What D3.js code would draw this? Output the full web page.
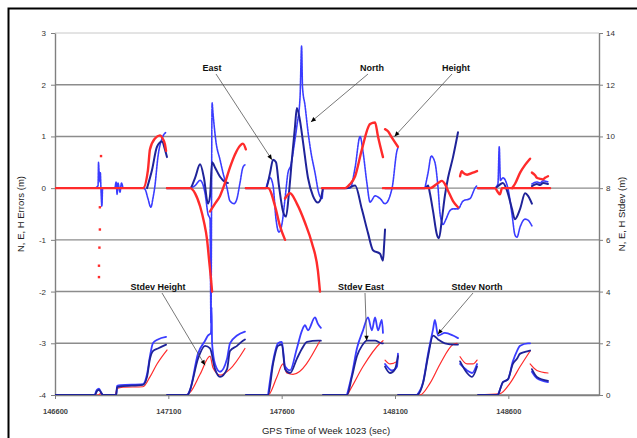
<!DOCTYPE html>
<html>
<head>
<meta charset="utf-8">
<script src="https://cdn.jsdelivr.net/npm/d3@7"></script>
<style>
  html, body { margin: 0; padding: 0; background: #fff; }
  svg { display: block; font-family: Arial, "Liberation Sans", sans-serif; }
</style>
</head>
<body>
<svg id="chart" width="637" height="438"></svg>
<script>
// ---- tick values ----
const xTicks = [146600, 147100, 147600, 148100, 148600];
const errTicks = [-4, -3, -2, -1, 0, 1, 2, 3];
const sdTicks = [0, 2, 4, 6, 8, 10, 12, 14];

// ---- position errors (m), one array of [time, value] per continuous piece ----
const heightErr = [
  [[146600,0],[146790,0],[146975,0],[146988,0],[147010,0.35],[147019,0.75],[147041,0.96],[147063,1.02],[147076,0.95],[147085,0.85],[147090,0.72]],
  [[147094,0],[147196,0],[147218,-0.1],[147240,-0.35],[147257,-0.65],[147271,-1.0],[147280,-1.4],[147288,-1.75],[147293,-2.0]],
  [[147284,-0.45],[147306,-0.3],[147328,-0.15],[147350,0.1],[147372,0.4],[147394,0.65],[147416,0.82],[147429,0.86],[147442,0.75]],
  [[147442,0],[147540,0],[147571,-0.35],[147593,-0.74],[147615,-1.0]],
  [[147615,-0.2],[147637,-0.1],[147667,-0.3],[147703,-0.67],[147734,-1.07],[147760,-1.6],[147769,-2.0]],
  [[147778,0],[147879,0],[147902,0.08],[147924,0.23],[147954,0.75],[147990,1.24],[148012,1.27],[148025,1.0],[148047,0.6]],
  [[148056,1.14],[148069,1.1],[148087,0.97],[148113,0.8]],
  [[148047,0],[148254,0],[148290,0.1],[148307,0.14],[148320,0.08],[148334,-0.05],[148356,-0.25],[148378,-0.37]],
  [[148387,0.23],[148394,0.33],[148400,0.3],[148418,0.26],[148444,0.3],[148462,0.33]],
  [[148466,0],[148541,0],[148554,-0.08],[148563,-0.12],[148572,0],[148784,0]],
  [[148616,0],[148629,0.08],[148652,0.3],[148674,0.45],[148696,0.57]],
  [[148704,0.3],[148718,0.25],[148726,0.2],[148740,0.18],[148753,0.17],[148762,0.2],[148775,0.23]]
];
// isolated height fixes around 146800
const heightDots = [[146803,0.62],[146798,-0.37],[146798,-0.8],[146796,-1.15],[146794,-1.5],[146794,-1.72]];

const eastErr = [
  [[147006,0],[147028,0.35],[147050,0.8],[147072,0.9],[147085,0.75],[147094,0.6]],
  [[147094,0],[147196,0],[147218,0.2],[147240,0.46],[147257,0.2],[147275,-0.3],[147284,-0.15],[147293,0.5],[147306,0.4],[147328,0.22],[147350,0.12],[147363,0.1]],
  [[147442,0],[147531,0],[147549,0.3],[147562,0.55],[147575,0.5],[147588,0.05],[147606,-0.45],[147619,-0.55],[147632,-0.1],[147645,0.55],[147659,1.2],[147667,1.55],[147681,1.3],[147694,0.9],[147716,0.2],[147738,-0.15],[147760,-0.28],[147773,-0.2],[147782,0]],
  [[147782,0],[147888,0],[147924,0.05],[147954,-0.41],[147981,-0.87],[148003,-1.2],[148034,-1.27],[148047,-1.4],[148052,-1.1],[148056,-0.8]],
  [[148056,0],[148232,0],[148246,0.05],[148254,-0.1],[148268,-0.45],[148285,-0.9],[148294,-0.97],[148307,-0.6],[148320,-0.15],[148334,0.2],[148356,0.6],[148378,1.08]],
  [[148466,0],[148541,0],[148554,0.04],[148576,0.1],[148598,-0.1],[148616,-0.4],[148629,-0.6],[148652,-0.4],[148674,-0.1],[148687,-0.15],[148704,-0.3]],
  [[148704,0.04],[148726,0.08],[148740,0.06],[148753,0.1],[148775,0.08]]
];

const northErr = [
  [[146776,0],[146790,0.05],[146792,0.5],[146794,0.35],[146796,0.25],[146798,0.12],[146800,0.3],[146803,-0.05],[146807,-0.35],[146810,0],[146821,0]],
  [[146865,0],[146870,0.12],[146874,-0.12],[146878,0.1],[146887,-0.08],[146893,0.1],[146900,0]],
  [[146988,0],[146997,-0.02],[147010,-0.2],[147023,-0.37],[147032,-0.2],[147041,0.05],[147054,0.6],[147076,1.0],[147090,1.08]],
  [[147196,0],[147218,0.05],[147240,0.15],[147262,-0.1],[147275,-0.5],[147284,-0.6],[147288,-2.6],[147293,1.65],[147297,1.45],[147310,0.9],[147328,0.55],[147341,0.3],[147359,0.0],[147372,-0.25],[147390,-0.3],[147403,-0.2],[147416,0.1],[147429,0.4],[147438,0.45]],
  [[147531,0],[147549,0.2],[147562,0.05],[147575,-0.6],[147588,-0.85],[147601,-0.7],[147615,-0.2],[147628,0.3],[147641,0.45],[147654,0.8],[147667,1.2],[147681,1.75],[147688,2.75],[147692,1.95],[147703,1.6],[147716,1.1],[147729,0.7],[147747,0.3],[147764,-0.1],[147778,-0.2],[147782,0]],
  [[147888,0],[147902,0],[147924,0.4],[147946,1.0],[147959,0.7],[147976,0.1],[147990,-0.27],[148012,-0.15],[148034,-0.2],[148056,-0.3],[148087,0],[148109,0.73],[148113,0.78]],
  [[148232,0],[148246,0.3],[148260,0.62],[148276,0.5],[148290,0.0],[148299,-0.5],[148312,-0.7],[148325,-0.6],[148340,-0.45],[148356,-0.4],[148378,-0.4],[148400,-0.25],[148431,-0.2],[148453,0.0],[148462,0.05]],
  [[148541,0],[148554,0.08],[148560,0.8],[148565,0.15],[148576,0.2],[148598,0],[148616,-0.5],[148629,-0.9],[148638,-0.95],[148652,-0.75],[148674,-0.6],[148687,-0.62],[148704,-0.73]],
  [[148704,0.08],[148726,0.12],[148740,0.1],[148753,0.14],[148775,0.12]]
];

// ---- standard deviations (m) ----
const stdevHeight = [
  [[146600,0],[146790,0],[146800,0.05],[146812,0],[146865,0],[146874,0.25],[146900,0.3],[146988,0.32],[147019,0.7],[147050,1.2],[147094,1.74]],
  [[147094,0],[147173,0],[147196,0.1],[147240,0.8],[147284,1.5],[147297,1.05],[147328,0.77],[147372,1.0],[147438,1.8]],
  [[147442,0],[147540,0],[147579,0.7],[147606,1.2],[147623,0.85],[147650,0.8],[147769,2.1]],
  [[147782,0],[147888,0],[147902,0.2],[147959,1.1],[148034,2.0],[148047,2.1]],
  [[148056,1.35],[148078,1.2],[148109,1.3],[148113,1.55]],
  [[148113,0],[148210,0],[148254,0.45],[148299,1.2],[148356,1.95],[148374,2.0]],
  [[148387,1.48],[148418,1.2],[148444,1.2],[148462,1.35]],
  [[148466,0],[148563,0.05],[148607,0.45],[148652,1.1],[148696,1.7]],
  [[148696,1.2],[148726,0.95],[148775,0.85]]
];

const stdevEast = [
  [[146600,0],[146776,0],[146785,0.15],[146794,0.2],[146803,0.1],[146812,0],[146870,0],[146874,0.3],[146890,0.33],[146988,0.39],[147006,0.7],[147019,1.4],[147032,1.7],[147054,1.8],[147090,1.95]],
  [[147094,0],[147185,0],[147196,0.2],[147231,1.4],[147262,1.9],[147284,1.8],[147306,1.0],[147328,0.7],[147359,1.0],[147372,1.7],[147403,1.9],[147429,2.1],[147438,2.15]],
  [[147442,0],[147540,0],[147562,1.2],[147584,1.9],[147601,1.95],[147615,1.0],[147637,0.85],[147667,1.4],[147690,1.8],[147712,2.05],[147760,2.1],[147773,2.1]],
  [[147782,0],[147888,0],[147910,0.7],[147932,1.5],[147954,1.9],[147976,2.1],[148012,2.1],[148042,2.0],[148047,2.0]],
  [[148056,1.1],[148078,0.85],[148100,1.0],[148113,1.5]],
  [[148113,0],[148197,0],[148224,0.47],[148246,1.5],[148268,2.3],[148290,2.15],[148320,2.0],[148365,1.95],[148378,1.95]],
  [[148387,1.3],[148418,0.85],[148440,0.7],[148462,1.1]],
  [[148466,0],[148554,0],[148563,0.2],[148576,0.5],[148598,0.6],[148620,1.2],[148638,1.4],[148652,1.6],[148687,1.7],[148696,1.72]],
  [[148704,1.0],[148726,0.7],[148775,0.55]]
];

const stdevNorth = [
  [[146776,0],[146785,0.2],[146794,0.25],[146803,0.1],[146812,0],[146870,0],[146874,0.35],[146890,0.38],[146988,0.42],[147006,0.8],[147019,1.5],[147032,2.0],[147054,2.15],[147090,2.25]],
  [[147185,0],[147196,0.2],[147231,1.6],[147262,2.1],[147275,2.3],[147288,2.4],[147291,3.4],[147293,2.0],[147306,1.2],[147328,0.9],[147359,1.4],[147372,2.0],[147403,2.3],[147438,2.45]],
  [[147540,0],[147562,1.3],[147584,2.0],[147601,2.05],[147615,1.1],[147637,0.95],[147667,1.8],[147690,2.5],[147703,2.7],[147716,2.5],[147747,3.0],[147760,2.75],[147773,2.6]],
  [[147888,0],[147910,0.8],[147932,1.8],[147959,2.5],[147981,3.0],[147998,2.5],[148012,3.0],[148025,2.5],[148042,2.9],[148047,2.4]],
  [[148056,1.2],[148087,0.95],[148109,1.1],[148113,1.6]],
  [[148197,0],[148224,0.5],[148246,1.6],[148268,2.55],[148276,2.9],[148290,2.3],[148320,2.4],[148356,2.3],[148378,2.2]],
  [[148387,1.2],[148418,0.95],[148440,0.85],[148462,1.2]],
  [[148554,0],[148563,0.2],[148576,0.5],[148598,0.6],[148620,1.3],[148638,1.7],[148652,1.9],[148687,2.0],[148696,2.0]],
  [[148704,0.9],[148726,0.65],[148775,0.5]]
];

// ---- callout labels: text, text anchor point, arrow tip in data units ----
const callouts = [
  { text: "East",         tx: 212, ty: 71,  at: [147557, 0.55], axis: "err" },
  { text: "North",        tx: 372, ty: 71,  at: [147729, 1.28], axis: "err" },
  { text: "Height",       tx: 456, ty: 71,  at: [148098, 1.0],  axis: "err" },
  { text: "Stdev Height", tx: 158, ty: 290, at: [147262, 1.15], axis: "sd"  },
  { text: "Stdev East",   tx: 361, ty: 290, at: [147975, 2.1],  axis: "sd"  },
  { text: "Stdev North",  tx: 477, ty: 290, at: [148289, 2.35], axis: "sd"  }
];

// ---- layout ----
const svg = d3.select("#chart");
const plotL = 55, plotR = 599, plotT = 33, plotB = 395;

const x = d3.scaleLinear().domain([146600, 149000]).range([plotL, plotR]);
const yErr = d3.scaleLinear().domain([-4, 3]).range([plotB, plotT]);
const ySd = d3.scaleLinear().domain([0, 14]).range([plotB, plotT]);

// outer frame
svg.append("rect").attr("x", 8.5).attr("y", 8.5).attr("width", 640).attr("height", 440)
  .attr("fill", "none").attr("stroke", "#000").attr("stroke-width", 2);

svg.append("defs").append("clipPath").attr("id", "plotClip")
  .append("rect").attr("x", plotL).attr("y", plotT - 1).attr("width", plotR - plotL).attr("height", plotB - plotT + 1);

// horizontal grid
svg.append("g").selectAll("line").data(errTicks).join("line")
  .attr("x1", plotL).attr("x2", plotR)
  .attr("y1", d => yErr(d)).attr("y2", d => yErr(d))
  .attr("stroke", d => d === 3 ? "#c8c8c8" : "#8c8c8c")
  .attr("stroke-width", d => d === 3 ? 1 : 1.4);

// axes
const fmt = d => String(d);
const axStyle = g => {
  g.select(".domain").attr("stroke", "#808080").attr("stroke-width", 1.4);
  g.selectAll(".tick line").attr("stroke", "#808080");
  g.selectAll(".tick text").attr("fill", "#333").attr("font-size", 8);
};
svg.append("g").attr("transform", `translate(${plotL},0)`)
  .call(d3.axisLeft(yErr).tickValues(errTicks).tickFormat(fmt).tickSize(4).tickSizeOuter(0).tickPadding(5))
  .call(axStyle);
svg.append("g").attr("transform", `translate(${plotR},0)`)
  .call(d3.axisRight(ySd).tickValues(sdTicks).tickFormat(fmt).tickSize(4).tickSizeOuter(0).tickPadding(3))
  .call(axStyle);
svg.append("g").attr("transform", `translate(0,${plotB})`)
  .call(d3.axisBottom(x).tickValues(xTicks).tickFormat(fmt).tickSize(4).tickSizeOuter(0).tickPadding(10))
  .call(axStyle)
  .call(g => g.selectAll(".tick text").attr("font-size", 7.5).attr("font-weight", "bold").attr("fill", "#444"));

// axis titles
svg.append("text").attr("transform", "translate(24,214) rotate(-90)")
  .attr("text-anchor", "middle").attr("font-size", 9.5).attr("fill", "#222")
  .text("N, E, H Errors (m)");
svg.append("text").attr("transform", "translate(625,214) rotate(-90)")
  .attr("text-anchor", "middle").attr("font-size", 9.5).attr("fill", "#222")
  .text("N, E, H Stdev (m)");
svg.append("text").attr("x", 326).attr("y", 434)
  .attr("text-anchor", "middle").attr("font-size", 9.5).attr("fill", "#222")
  .text("GPS Time of Week 1023 (sec)");

// series
const plot = svg.append("g").attr("clip-path", "url(#plotClip)");
const lineErr = d3.line().x(d => x(d[0])).y(d => yErr(d[1])).curve(d3.curveMonotoneX);
const lineSd = d3.line().x(d => x(d[0])).y(d => ySd(d[1])).curve(d3.curveMonotoneX);

const RED = "#ff2b2b", NAVY = "#1f2399", BLUE = "#3a3cff";

function drawPieces(pieces, gen, color, width, dash) {
  plot.append("g").selectAll("path").data(pieces).join("path")
    .attr("d", gen).attr("fill", "none")
    .attr("stroke", color).attr("stroke-width", width)
    .attr("stroke-linejoin", "round").attr("stroke-linecap", "round")
    .attr("stroke-dasharray", dash || null);
}

drawPieces(stdevHeight, lineSd, RED, 1.2);
drawPieces(stdevNorth, lineSd, BLUE, 1.8);
drawPieces(stdevEast, lineSd, NAVY, 1.8);

drawPieces(northErr, lineErr, BLUE, 1.6, "2.2 0.8");
drawPieces(eastErr, lineErr, NAVY, 2);
drawPieces(heightErr, lineErr, RED, 2.4);

plot.append("g").selectAll("rect").data(heightDots).join("rect")
  .attr("x", d => x(d[0]) - 1.2).attr("y", d => yErr(d[1]) - 1.2)
  .attr("width", 2.4).attr("height", 2.4).attr("fill", RED);

// callouts
const ann = svg.append("g");
callouts.forEach(c => {
  const px = x(c.at[0]);
  const py = c.axis === "err" ? yErr(c.at[1]) : ySd(c.at[1]);
  const sx = c.tx + (px > c.tx ? 4 : -4), sy = c.ty + 3;
  const ang = Math.atan2(py - sy, px - sx);
  ann.append("line").attr("x1", sx).attr("y1", sy).attr("x2", px).attr("y2", py)
    .attr("stroke", "#555").attr("stroke-width", 0.8);
  const L = 5, W = 2.2;
  const bx = px - L * Math.cos(ang), by = py - L * Math.sin(ang);
  ann.append("path")
    .attr("d", `M${px},${py}L${bx - W * Math.sin(ang)},${by + W * Math.cos(ang)}L${bx + W * Math.sin(ang)},${by - W * Math.cos(ang)}Z`)
    .attr("fill", "#000");
  ann.append("text").attr("x", c.tx).attr("y", c.ty)
    .attr("text-anchor", "middle").attr("font-size", 9).attr("font-weight", "bold")
    .attr("fill", "#111").text(c.text);
});
</script>
</body>
</html>
